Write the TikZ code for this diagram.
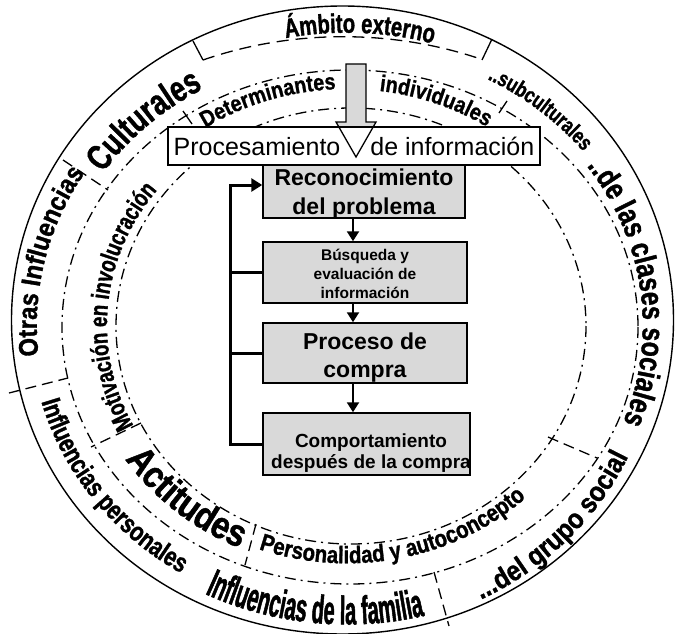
\documentclass[tikz,border=0pt]{standalone}
\usepackage{fontspec}
\setmainfont{Liberation Sans}
\newfontfamily\wfA[FakeStretch=0.75,FakeBold=1.2]{Liberation Sans}
\newfontfamily\wfB[FakeStretch=0.5,FakeBold=1.2]{Liberation Sans}
\newfontfamily\wfC[FakeStretch=0.78,FakeBold=1.2]{Liberation Sans}
\newfontfamily\wfD[FakeStretch=0.8,FakeBold=1.2]{Liberation Sans}
\newfontfamily\wfE[FakeStretch=0.88,FakeBold=1.2]{Liberation Sans}
\newfontfamily\wfG[FakeStretch=0.86,FakeBold=1.0]{Liberation Sans}
\newfontfamily\wfH[FakeStretch=0.85,FakeBold=1.2]{Liberation Sans}
\usetikzlibrary{decorations.text,arrows.meta,calc}
\definecolor{boxgray}{RGB}{217,217,217}
\newcommand\bandtext[7]{%
  \path[decorate,decoration={text along path,text align=center,
    text={|#5\bfseries\fontsize{#6}{#6}\selectfont|#7}}]
    ($(C)+({#1*cos(#3)},{#2*sin(#3)})$) arc[start angle=#3,end angle=#4,x radius=#1,y radius=#2];}
\begin{document}
\begin{tikzpicture}[x=1pt,y=-1pt,
  ring/.style={line width=1.3pt,dash pattern=on 11pt off 5pt on 2pt off 5pt},
  divd/.style={line width=1.3pt,dash pattern=on 11pt off 6pt},
  tick/.style={line width=1.3pt},
  pbox/.style={draw=black,line width=1.5pt,fill=boxgray,inner sep=0pt},
  ptext/.style={align=center,inner sep=0pt},
  flow/.style={line width=2.2pt,-{Triangle[width=12pt,length=10pt]}},
  fb/.style={line width=3pt,line join=miter}]
\useasboundingbox (0,0) rectangle (675,634);
\fill[white] (0,0) rectangle (675,634);
\coordinate (C) at (347,325);
% rings
\draw[line width=1.4pt] (342.5,320) ellipse [x radius=331,y radius=314];
\draw[ring] (350,327) ellipse [x radius=288,y radius=257];
\draw[ring] (351,326) ellipse [x radius=235,y radius=218];
% title box of the outer band
\draw[line width=1.3pt,dash pattern=on 12pt off 7pt] (203,60) arc[start angle=246.8,end angle=293.0,x radius=356,y radius=288];
\draw[tick] (193,41) -- (203,60);
\draw[tick] (492,39) -- (482,60);
% dividers
\draw[divd] (63,160) -- (108,190);
\draw[divd] (9,393) -- (68,378);
\draw[divd] (141,423) -- (91,447);
\draw[divd] (256,524) -- (245,565);
\draw[divd] (434,572) -- (449,626);
\draw[divd] (548,437) -- (597,458);
\draw[tick] (183,111) -- (192,124);
\draw[tick] (507,101) -- (499,113);
% outer band texts
\bandtext{318.6}{292.3}{247.3}{297.3}{\wfA}{27}{Ámbito externo}
\bandtext{294.9}{270.6}{197}{257}{\wfA}{36}{Culturales}
\bandtext{302.5}{277.6}{280}{340}{\wfC}{22}{..subculturales}
\bandtext{295.8}{271.4}{312.7}{392.7}{\wfD}{31}{..de las clases sociales}
\bandtext{312}{304}{75}{15}{\wfE}{28}{...del grupo social}
\bandtext{322.4}{299.5}{131.2}{61.2}{\wfB}{40}{Influencias de la familia}
\bandtext{316.8}{291.5}{178.6}{108.6}{\wfC}{27}{Influencias personales}
\bandtext{310.2}{284.6}{162.9}{222.9}{\wfE}{27}{Otras Influencias}
% inner band texts
\bandtext{257}{236}{226.9}{276.9}{\wfG}{23}{Determinantes}
\bandtext{257}{236}{265.3}{315.3}{\wfG}{23}{individuales}
\bandtext{240}{220.2}{145.2}{225.2}{\wfA}{25}{Motivación en involucración}
\bandtext{265.7}{243.8}{160.6}{100.6}{\wfH}{38}{Actitudes}
\bandtext{259.7}{238.3}{118}{38}{\wfH}{24}{Personalidad y autoconcepto}
% big arrow
\filldraw[fill=boxgray,line width=1.3pt,line join=miter] (346,64) -- (366,64) -- (366,122) -- (376,122) -- (356,157) -- (336,122) -- (346,122) -- cycle;
% process boxes
\node[pbox,minimum width=202pt,minimum height=58pt] (b1) at (364,189) {};
\node[ptext,font=\bfseries\fontsize{23}{29}\selectfont] (b1t) at (364,193.6) {Reconocimiento\\del problema};
\node[pbox,minimum width=204pt,minimum height=61pt] (b2) at (365,272.5) {};
\node[ptext,font=\bfseries\fontsize{15.5}{19}\selectfont] (b2t) at (365,274) {Búsqueda y\\evaluación de\\información};
\node[pbox,minimum width=204pt,minimum height=60pt] (b3) at (365,353) {};
\node[ptext,font=\bfseries\fontsize{23}{28}\selectfont] (b3t) at (365,358) {Proceso de\\compra};
\node[pbox,minimum width=207pt,minimum height=62pt] (b4) at (366.5,444) {};
\node[ptext,font=\bfseries\fontsize{19}{21}\selectfont] (b4t) at (371,453) {Comportamiento\\después de la compra};
\node[draw=black,fill=white,line width=1.5pt,minimum width=372pt,minimum height=38pt,inner sep=0pt,font=\fontsize{25}{28}\selectfont] (proc) at (354,146) {Procesamiento\hspace{30pt}de información};
\begin{scope}
  \clip (proc.south west) rectangle (proc.north east);
  \draw[line width=1.3pt,line join=miter] (336,122) -- (356,157) -- (376,122);
\end{scope}
% connectors
\coordinate (colx) at (353,0);
\coordinate (fbx) at (230,0);
\coordinate (fby) at (0,185);
\draw[flow] (b1.south -| colx) -- (b2.north -| colx);
\draw[flow] (b2.south -| colx) -- (b3.north -| colx);
\draw[flow] (b3.south -| colx) -- (b4.north -| colx);
\draw[fb,-{Triangle[width=13pt,length=11pt]}] (b4.west) -- (fbx |- b4.west) -- (fbx |- fby) -- (b1.west |- fby);
\draw[fb] (fbx |- b2.west) -- (b2.west);
\draw[fb] (fbx |- b3.west) -- (b3.west);
\end{tikzpicture}
\end{document}
